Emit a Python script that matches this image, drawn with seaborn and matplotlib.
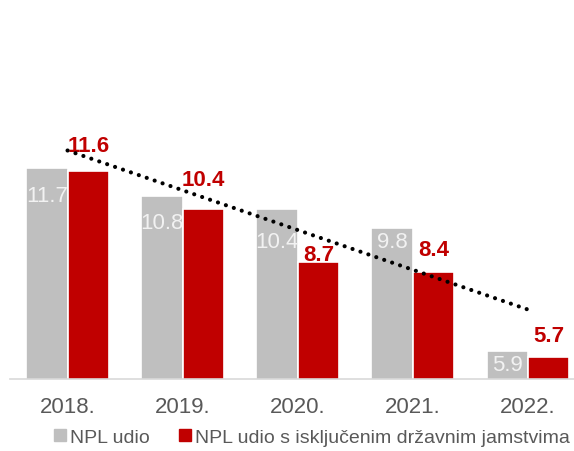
import numpy as np
import pandas as pd
import seaborn as sns
import matplotlib.pyplot as plt
from matplotlib.lines import Line2D

# Chart values
years = ['2018.', '2019.', '2020.', '2021.', '2022.']
npl_share = [11.7, 10.8, 10.4, 9.8, 5.9]
npl_excl_guarantees = [11.6, 10.4, 8.7, 8.4, 5.7]
series_names = ['NPL udio', 'NPL udio s isključenim državnim jamstvima']

grey = '#BFBFBF'
red = '#C00000'

df = pd.DataFrame({
    'year': years * 2,
    'value': npl_share + npl_excl_guarantees,
    'series': [series_names[0]] * len(years) + [series_names[1]] * len(years),
})

sns.set_style('white')
plt.rcParams['font.family'] = ['Liberation Sans', 'DejaVu Sans']

fig = plt.figure(figsize=(5.74, 4.52), dpi=100)
ax = fig.add_axes([10 / 574, 72 / 452, 1 - 10 / 574, 380 / 452])

sns.barplot(data=df, x='year', y='value', hue='series', palette=[grey, red],
            saturation=1, width=0.72, edgecolor='white', linewidth=1.2,
            legend=False, ax=ax)

ax.set_ylim(5, 17.04)
ax.set_xlim(-0.5, 4.4)
ax.set_xlabel('')
ax.set_ylabel('')
ax.set_yticks([])
for s in ['left', 'top', 'right']:
    ax.spines[s].set_visible(False)
ax.spines['bottom'].set_color('#D9D9D9')
ax.spines['bottom'].set_linewidth(1.2)
ax.tick_params(axis='x', length=0, pad=12, labelsize=16, labelcolor='#595959')

# linear trend of the NPL share
xs = np.arange(len(years))
k, b = np.polyfit(xs, npl_share, 1)
ax.plot(xs, k * xs + b, color='black', lw=3, linestyle=(0, (0.01, 2.0)),
        dash_capstyle='round', zorder=5)

# value labels (offsets in pixels, hand placed like in the original)
grey_drop = [33, 32, 38, 19, 19]
red_rise = [20, 24, 2, 17, 16]
for bar, v, d in zip(ax.containers[0], npl_share, grey_drop):
    ax.annotate(f'{v:.1f}', (bar.get_x() + bar.get_width() / 2, v),
                xytext=(0, -d), textcoords='offset pixels', ha='center',
                va='baseline', color='#F2F2F2', fontsize=16)
for bar, v, d in zip(ax.containers[1], npl_excl_guarantees, red_rise):
    ax.annotate(f'{v:.1f}', (bar.get_x() + bar.get_width() / 2, v),
                xytext=(0, d), textcoords='offset pixels', ha='center',
                va='baseline', color=red, fontsize=16, fontweight='bold')

handles = [Line2D([], [], marker='s', ls='', color=c, markersize=8) for c in [grey, red]]
fig.legend(handles, series_names, loc='center', bbox_to_anchor=(310 / 574, 14 / 452),
           ncol=2, frameon=False, fontsize=14, handletextpad=0.0,
           columnspacing=1.3, labelcolor='#595959', handlelength=1.0)

fig.savefig('out.png', dpi=100)
